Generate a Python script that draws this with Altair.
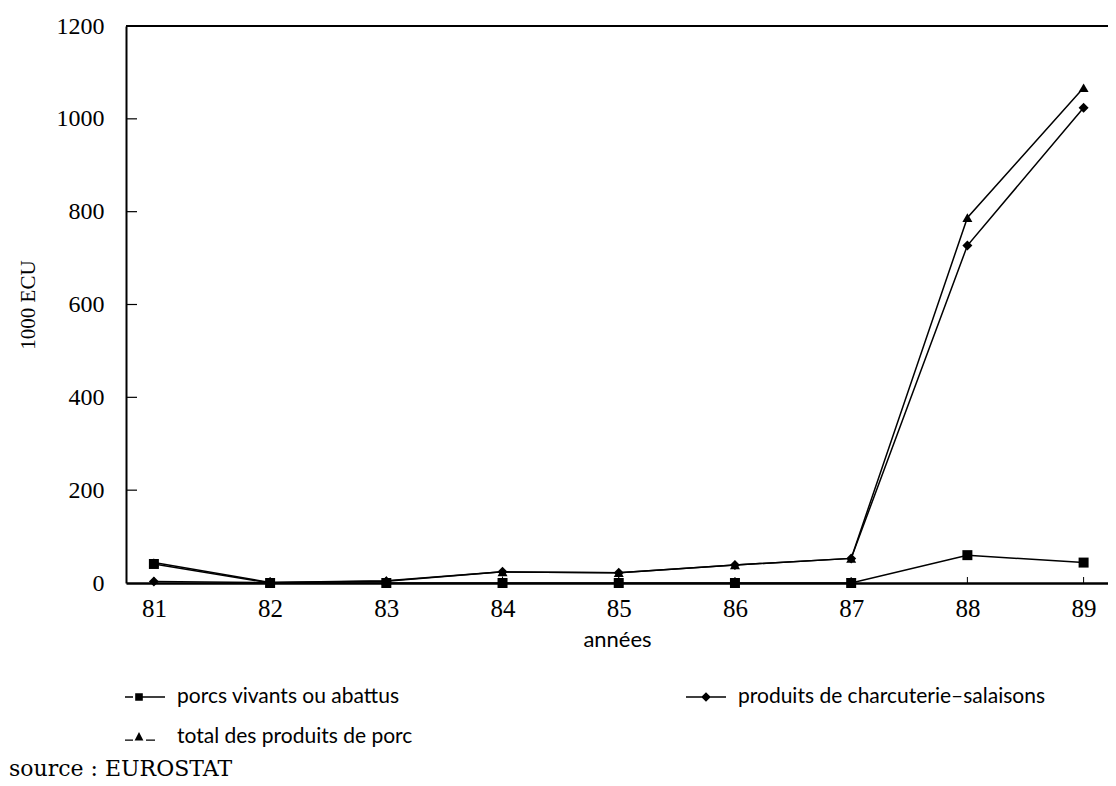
import altair as alt
import pandas as pd

# ---- data ----
years = [81, 82, 83, 84, 85, 86, 87, 88, 89]
porcs = [41, 0, 0, 0, 0, 0, 0, 60, 44]
charcuterie = [3, 1, 4, 24, 22, 39, 53, 727, 1024]
total = [44, 1, 5, 24, 22, 39, 53, 787, 1067]
series_names = [
    "porcs vivants ou abattus",
    "produits de charcuterie\u2013salaisons",
    "total des produits de porc",
]
y_ticks = [0, 200, 400, 600, 800, 1000, 1200]
x_title = "années"
y_title = "1000 ECU"
source_text = "source : EUROSTAT"

rows = []
for name, vals in zip(series_names, [porcs, charcuterie, total]):
    for yr, v in zip(years, vals):
        rows.append({"annee": yr, "valeur": v, "serie": name})
df = pd.DataFrame(rows)
yt = pd.DataFrame({"v": y_ticks[1:-1]})
xt = pd.DataFrame({"annee": years})

W, H = 982, 557
SERIF = "Liberation Serif"
SANS = "Lato"

xscale = alt.Scale(domain=[80.76, 89.21], nice=False, zero=False)
yscale = alt.Scale(domain=[0, 1200], nice=False)

X = alt.X(
    "annee:Q",
    scale=xscale,
    axis=alt.Axis(
        values=years, format="d", title=x_title, grid=False, ticks=False,
        labelFont=SERIF, labelFontSize=25, labelPadding=13, labelColor="black",
        titleFont=SANS, titleFontSize=22, titleFontWeight="normal",
        titlePadding=8, titleColor="black",
        domainColor="black", domainWidth=2.5,
    ),
)
Y = alt.Y(
    "valeur:Q",
    scale=yscale,
    axis=alt.Axis(
        values=y_ticks, format="d", title=y_title, grid=False, ticks=False,
        labelFont=SERIF, labelFontSize=24, labelPadding=22, labelColor="black",
        titleFont=SERIF, titleFontSize=21, titleFontWeight="normal",
        titleColor="black", titlePadding=18,
        domainColor="black", domainWidth=2,
    ),
)

shape_plot = alt.Scale(domain=series_names, range=["square", "diamond", "triangle-up"])
# legend glyphs: short line pieces drawn as thin filled bars plus the marker
legend_paths = [
    "M-1,-0.035H-0.6V0.035H-1Z"
    "M-0.49,-0.19H-0.11V0.19H-0.49Z"
    "M-0.11,-0.035H1V0.035H-0.11Z",
    "M-1,-0.035H1V0.035H-1Z"
    "M0,-0.24L0.24,0L0,0.24L-0.24,0Z",
    "M-1,0.12H-0.6V0.19H-1Z"
    "M-0.3,-0.25L-0.08,0.17L-0.52,0.17Z"
    "M0.05,0.12H0.5V0.19H0.05Z",
]
shape_leg = alt.Scale(domain=series_names, range=legend_paths)

lines = alt.Chart(df).mark_line(color="black", strokeWidth=1.5).encode(
    x=X, y=Y, detail="serie:N"
)
points = alt.Chart(df).mark_point(filled=True, color="black", size=100, opacity=1).encode(
    x=X, y=Y, shape=alt.Shape("serie:N", scale=shape_plot, legend=None)
)
legend_layer = alt.Chart(df).mark_point(filled=True, color="black", opacity=0).encode(
    x=X,
    y=Y,
    shape=alt.Shape(
        "serie:N",
        scale=shape_leg,
        legend=alt.Legend(
            title=None, orient="none", legendX=-1, legendY=651, direction="horizontal",
            columns=2, columnPadding=273, rowPadding=10,
            symbolSize=1600, symbolOpacity=1, symbolFillColor="black",
            symbolStrokeWidth=0,
            labelFont=SANS, labelFontSize=21, labelColor="black", labelOffset=12,
            labelLimit=400,
        ),
    ),
)

top_line = alt.Chart(xt).mark_rule(color="black", strokeWidth=2).encode(
    x=alt.value(0), x2=alt.value(W), y=alt.value(0)
)
y_tick_marks = alt.Chart(yt).mark_rule(color="black", strokeWidth=1.2).encode(
    y=alt.Y("v:Q", scale=yscale), x=alt.value(0), x2=alt.value(11)
)
x_tick_marks = alt.Chart(xt).mark_rule(color="black", strokeWidth=1).encode(
    x=alt.X("annee:Q", scale=xscale), y=alt.value(H - 6), y2=alt.value(H)
)
source = alt.Chart(xt).transform_filter("datum.annee == 81").mark_text(
    font="DejaVu Serif", fontSize=22, align="left", baseline="middle", color="black"
).encode(x=alt.value(-117), y=alt.value(743), text=alt.value(source_text))

chart = (
    alt.layer(top_line, y_tick_marks, x_tick_marks, lines, points, legend_layer, source)
    .resolve_scale(shape="independent")
    .properties(
        width=W,
        height=H,
        padding={"left": 118, "top": 18, "right": 0, "bottom": 200},
        autosize=alt.AutoSizeParams(type="none"),
    )
    .configure_view(stroke=None)
    .configure(background="white")
)

chart.save("out.html", embed_options={"renderer": "svg", "actions": False})
